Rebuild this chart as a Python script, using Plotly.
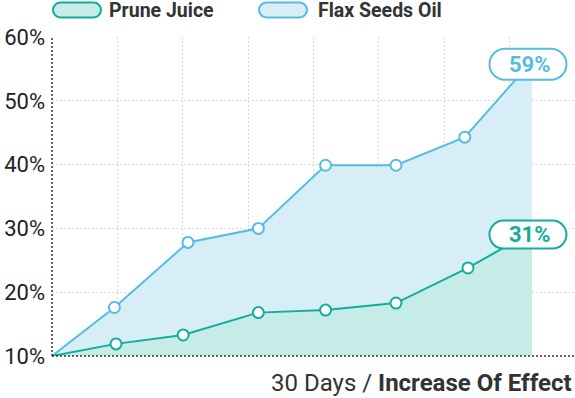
import plotly.graph_objects as go

# ---- data ----
series_names = ["Prune Juice", "Flax Seeds Oil"]
days_flax = [0, 3.9, 8.5, 12.9, 17.1, 21.5, 25.8, 30]
flax = [10, 17.6, 27.8, 30.0, 39.9, 39.9, 44.3, 56.2]
days_prune = [0, 4.0, 8.2, 12.9, 17.1, 21.5, 26.0, 30]
prune = [10, 11.9, 13.3, 16.8, 17.2, 18.3, 23.8, 29.5]
end_labels = ["31%", "59%"]
y_ticks = [10, 20, 30, 40, 50, 60]
y_tick_labels = ["10%", "20%", "30%", "40%", "50%", "60%"]
x_title_regular = "30 Days / "
x_title_bold = "Increase Of Effect"

BLUE = "#56bde0"
BLUE_FILL = "#d7eef6"
TEAL = "#14ad9c"
TEAL_FILL = "#c6ece7"
FONT = "Roboto"

X_MAX = 32.69
DTICK = X_MAX / 8


def pill(cx, cy, w, h):
    """Rounded pill path in pixel offsets (y up) relative to an anchor."""
    r = h / 2.0
    k = 0.5523 * r
    L, R = cx - w / 2.0, cx + w / 2.0
    B, T = cy - h / 2.0, cy + h / 2.0
    return (
        f"M {L + r},{B} L {R - r},{B} "
        f"C {R - r + k},{B} {R},{B + r - k} {R},{B + r} "
        f"C {R},{B + r + k} {R - r + k},{T} {R - r},{T} "
        f"L {L + r},{T} "
        f"C {L + r - k},{T} {L},{T - r + k} {L},{T - r} "
        f"C {L},{T - r - k} {L + r - k},{B} {L + r},{B} Z"
    )


fig = go.Figure()

# Flax (behind)
fig.add_trace(go.Scatter(
    x=days_flax, y=flax, mode="lines", fill="tozeroy",
    fillcolor=BLUE_FILL, line=dict(color=BLUE, width=2),
    name=series_names[1], hoverinfo="skip", showlegend=False))
# Prune
fig.add_trace(go.Scatter(
    x=days_prune, y=prune, mode="lines", fill="tozeroy",
    fillcolor=TEAL_FILL, line=dict(color=TEAL, width=2),
    name=series_names[0], hoverinfo="skip", showlegend=False))
# markers (interior points)
fig.add_trace(go.Scatter(
    x=days_flax[1:-1], y=flax[1:-1], mode="markers",
    marker=dict(size=11, color="white", line=dict(color=BLUE, width=2)),
    showlegend=False, hoverinfo="skip"))
fig.add_trace(go.Scatter(
    x=days_prune[1:-1], y=prune[1:-1], mode="markers",
    marker=dict(size=11, color="white", line=dict(color=TEAL, width=2)),
    showlegend=False, hoverinfo="skip"))

shapes = []
annotations = []

# end-value pills
for xs, ys, col, lab, h in [(days_flax, flax, BLUE, end_labels[1], 31),
                            (days_prune, prune, TEAL, end_labels[0], 28)]:
    shapes.append(dict(
        type="path", xref="x", yref="y", xsizemode="pixel", ysizemode="pixel",
        xanchor=xs[-1], yanchor=ys[-1], path=pill(-4, -3, 77, h),
        fillcolor="white", line=dict(color=col, width=2), layer="above"))
    annotations.append(dict(
        x=xs[-1], y=ys[-1], xref="x", yref="y", text=f"<b>{lab}</b>",
        showarrow=False, xshift=-2, yshift=-3, xanchor="center", yanchor="middle",
        font=dict(family=FONT, size=22, color=col)))

# dotted axis lines
shapes.append(dict(type="line", xref="paper", yref="paper", x0=0, x1=0, y0=0, y1=1,
                   line=dict(color="#333", width=1.5, dash="2px,2px"), layer="above"))
shapes.append(dict(type="line", xref="paper", yref="paper", x0=0, x1=1, y0=0, y1=0,
                   line=dict(color="#333", width=1.5, dash="2px,2px"), layer="above"))

# custom legend (pills + bold text), anchored at top-left of plot area
legend_items = [(series_names[0], TEAL, TEAL_FILL, 25, 55),
                (series_names[1], BLUE, BLUE_FILL, 231, 264)]
for name, col, fcol, cx, tx in legend_items:
    shapes.append(dict(
        type="path", xref="paper", yref="paper", xsizemode="pixel", ysizemode="pixel",
        xanchor=0, yanchor=1, path=pill(cx, 27, 48, 15),
        fillcolor=fcol, line=dict(color=col, width=2), layer="above"))
    annotations.append(dict(
        x=0, y=1, xref="paper", yref="paper", text=f"<b>{name}</b>",
        showarrow=False, xanchor="left", yanchor="middle", xshift=tx, yshift=27,
        font=dict(family=FONT, size=19.5, color="#333")))

# x title
annotations.append(dict(
    x=1, y=0, xref="paper", yref="paper",
    text=f"{x_title_regular}<b>{x_title_bold}</b>",
    showarrow=False, xanchor="right", yanchor="middle", xshift=-1, yshift=-27,
    font=dict(family=FONT, size=24, color="#333")))

fig.update_layout(
    width=575, height=398,
    margin=dict(l=52, r=0, t=37, b=42),
    paper_bgcolor="white", plot_bgcolor="white",
    showlegend=False,
    shapes=shapes, annotations=annotations,
    xaxis=dict(range=[0, X_MAX], tick0=0, dtick=DTICK, showticklabels=False,
               showgrid=True, gridcolor="#d9d9d9", griddash="2px,2px", gridwidth=1,
               zeroline=False, showline=False, fixedrange=True),
    yaxis=dict(range=[10, 60], tickmode="array", tickvals=y_ticks, ticktext=y_tick_labels,
               showgrid=True, gridcolor="#d9d9d9", griddash="2px,2px", gridwidth=1,
               zeroline=False, showline=False, ticklabelstandoff=6,
               tickfont=dict(family=FONT, size=22, color="#222"), fixedrange=True),
)

fig.write_html("out.html")
